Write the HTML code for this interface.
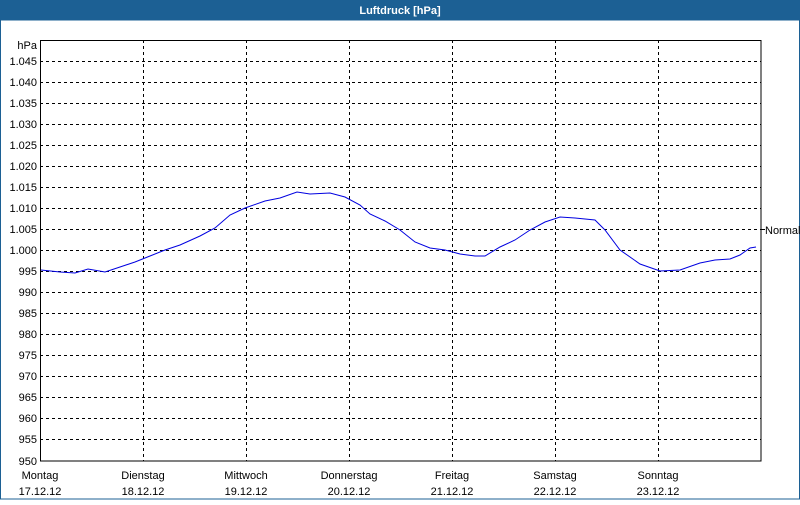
<!DOCTYPE html>
<html><head><style>
body{margin:0;background:#fff;}
</style></head><body>
<svg width="800" height="500" xmlns="http://www.w3.org/2000/svg" font-family="Liberation Sans, DejaVu Sans, sans-serif" font-size="11">
<rect x="0" y="0" width="800" height="500" fill="#fff"/>
<rect x="0" y="0" width="800" height="20" fill="#1c6094"/>
<text x="400" y="14" text-anchor="middle" fill="#fff" font-weight="bold" font-size="11">Luftdruck [hPa]</text>
<rect x="0.5" y="20" width="799" height="479" fill="none" stroke="#1c6094" stroke-width="1"/>
<g stroke="#000" stroke-dasharray="3,3" stroke-width="1">
<line x1="40" x2="761" y1="61.5" y2="61.5"/><line x1="40" x2="761" y1="82.5" y2="82.5"/><line x1="40" x2="761" y1="103.5" y2="103.5"/><line x1="40" x2="761" y1="124.5" y2="124.5"/><line x1="40" x2="761" y1="145.5" y2="145.5"/><line x1="40" x2="761" y1="166.5" y2="166.5"/><line x1="40" x2="761" y1="187.5" y2="187.5"/><line x1="40" x2="761" y1="208.5" y2="208.5"/><line x1="40" x2="761" y1="229.5" y2="229.5"/><line x1="40" x2="761" y1="250.5" y2="250.5"/><line x1="40" x2="761" y1="271.5" y2="271.5"/><line x1="40" x2="761" y1="292.5" y2="292.5"/><line x1="40" x2="761" y1="313.5" y2="313.5"/><line x1="40" x2="761" y1="334.5" y2="334.5"/><line x1="40" x2="761" y1="355.5" y2="355.5"/><line x1="40" x2="761" y1="376.5" y2="376.5"/><line x1="40" x2="761" y1="397.5" y2="397.5"/><line x1="40" x2="761" y1="418.5" y2="418.5"/><line x1="40" x2="761" y1="439.5" y2="439.5"/>
<line x1="143.5" x2="143.5" y1="40" y2="461"/><line x1="246.5" x2="246.5" y1="40" y2="461"/><line x1="349.5" x2="349.5" y1="40" y2="461"/><line x1="452.5" x2="452.5" y1="40" y2="461"/><line x1="555.5" x2="555.5" y1="40" y2="461"/><line x1="658.5" x2="658.5" y1="40" y2="461"/>
</g>
<rect x="40.5" y="40.5" width="720.5" height="420.5" fill="none" stroke="#000"/>
<line x1="761" x2="765" y1="229.5" y2="229.5" stroke="#000"/>
<text x="765" y="234" font-size="11">Normal</text>
<g text-anchor="end" font-size="11">
<text x="37" y="49">hPa</text>
<text x="37" y="65">1.045</text><text x="37" y="86">1.040</text><text x="37" y="107">1.035</text><text x="37" y="128">1.030</text><text x="37" y="149">1.025</text><text x="37" y="170">1.020</text><text x="37" y="191">1.015</text><text x="37" y="212">1.010</text><text x="37" y="233">1.005</text><text x="37" y="254">1.000</text><text x="37" y="275">995</text><text x="37" y="296">990</text><text x="37" y="317">985</text><text x="37" y="338">980</text><text x="37" y="359">975</text><text x="37" y="380">970</text><text x="37" y="401">965</text><text x="37" y="422">960</text><text x="37" y="443">955</text><text x="37" y="465">950</text>
</g>
<g text-anchor="middle" font-size="11">
<text x="40" y="479">Montag</text><text x="40" y="495">17.12.12</text>
<text x="143" y="479">Dienstag</text><text x="143" y="495">18.12.12</text>
<text x="246" y="479">Mittwoch</text><text x="246" y="495">19.12.12</text>
<text x="349" y="479">Donnerstag</text><text x="349" y="495">20.12.12</text>
<text x="452" y="479">Freitag</text><text x="452" y="495">21.12.12</text>
<text x="555" y="479">Samstag</text><text x="555" y="495">22.12.12</text>
<text x="658" y="479">Sonntag</text><text x="658" y="495">23.12.12</text>
</g>
<polyline fill="none" stroke="#0000e0" stroke-width="1" points="41,270 60,272 75,273 88,269 105,272 120,267 135,262 150,256 165,250 180,245 200,236 215,228 230,215 245,208 265,201 280,198 297,192 310,194 330,193 345,197 360,205 370,214 385,221 400,230 415,242 430,248 445,250 460,254 475,256 485,256 500,247 515,240 530,230 545,222 560,217 575,218 595,220 605,230 620,250 640,264 660,271 680,270 700,263 715,260 730,259 740,255 750,248 756,247"/>
</svg>
</body></html>
